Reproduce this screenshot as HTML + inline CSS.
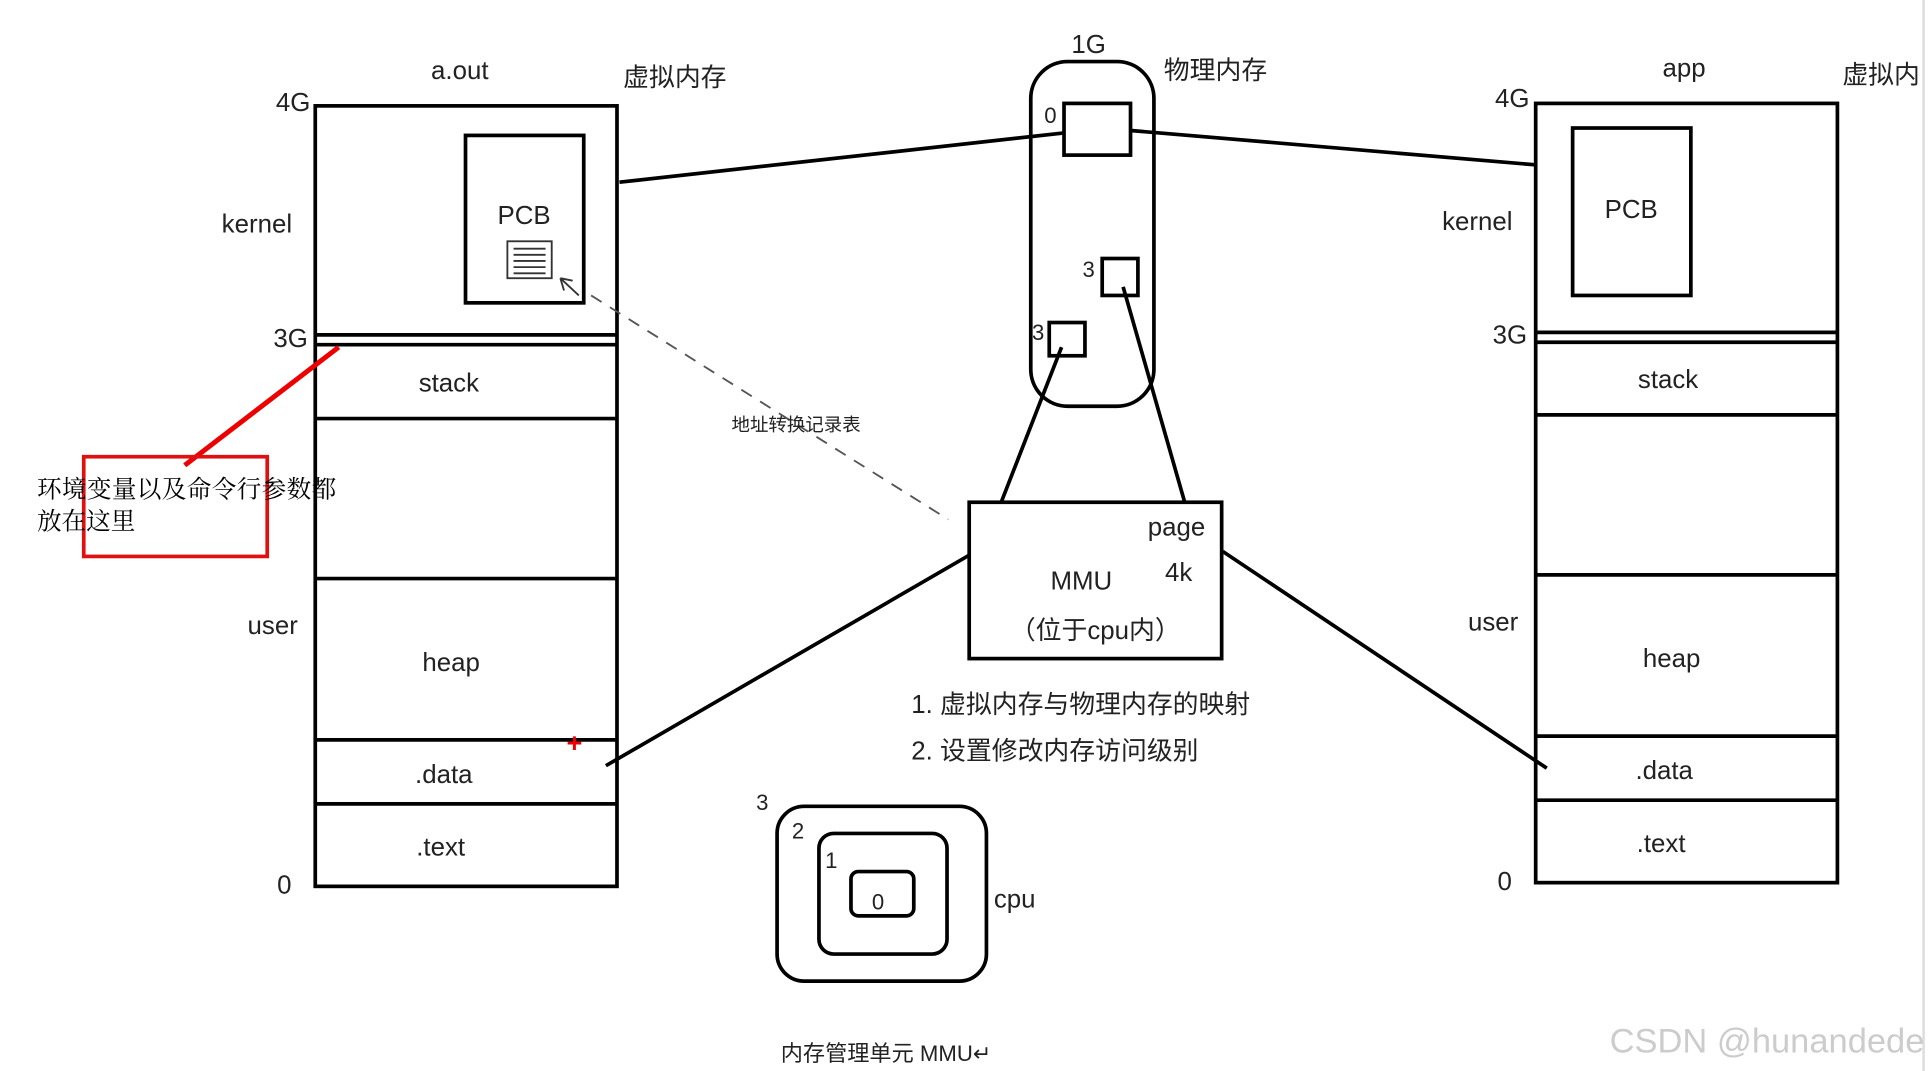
<!DOCTYPE html>
<html><head><meta charset="utf-8"><style>
html,body{margin:0;padding:0;background:#fff;width:1931px;height:1071px;overflow:hidden}
svg{display:block}
text{font-family:"Liberation Sans","Noto Sans CJK SC",sans-serif;fill:#222}
</style></head><body>
<svg width="1931" height="1071" viewBox="0 0 1568 870" preserveAspectRatio="none" xmlns="http://www.w3.org/2000/svg">
<rect width="1568" height="870" fill="#fff"/>
<line x1="1562" y1="0" x2="1562" y2="870" stroke="#ddd" stroke-width="2"/>
<g stroke="#000" fill="none" stroke-width="3">
<rect x="256" y="86" width="245" height="634"/>
<line x1="256" y1="272" x2="501" y2="272"/><line x1="256" y1="280" x2="501" y2="280"/>
<line x1="256" y1="340" x2="501" y2="340"/>
<line x1="256" y1="470" x2="501" y2="470"/>
<line x1="256" y1="601" x2="501" y2="601"/>
<line x1="256" y1="653" x2="501" y2="653"/>
<rect x="378" y="110" width="96" height="136"/>
<rect x="1247" y="84" width="245" height="633"/>
<line x1="1247" y1="270" x2="1492" y2="270"/><line x1="1247" y1="278" x2="1492" y2="278"/>
<line x1="1247" y1="337" x2="1492" y2="337"/>
<line x1="1247" y1="467" x2="1492" y2="467"/>
<line x1="1247" y1="598" x2="1492" y2="598"/>
<line x1="1247" y1="650" x2="1492" y2="650"/>
<rect x="1277" y="104" width="96" height="136"/>
<rect x="837" y="50" width="100" height="280" rx="30"/>
<rect x="864" y="84" width="54" height="42"/>
<rect x="895" y="210" width="29" height="30"/>
<rect x="852" y="262" width="29" height="27"/>
<line x1="503" y1="148" x2="864" y2="108"/>
<line x1="918" y1="106" x2="1248" y2="134"/>
<line x1="862" y1="282" x2="813" y2="408"/>
<line x1="912" y1="233" x2="962" y2="408"/>
<rect x="787" y="408" width="205" height="127"/>
<line x1="787" y1="451" x2="492" y2="622"/>
<line x1="993" y1="448" x2="1256" y2="624"/>
<rect x="631" y="655" width="170" height="142" rx="22"/>
<rect x="665" y="677" width="104" height="98" rx="12"/>
<rect x="691" y="708" width="51" height="36" rx="6"/>
</g>
<line x1="480" y1="240" x2="770" y2="422" stroke="#555" stroke-width="1.5" stroke-dasharray="10,8"/>
<path d="M455 226 L470 240 M455 226 L458 236 M455 226 L465 228" stroke="#333" stroke-width="1.5" fill="none"/>
<rect x="412" y="196" width="36" height="30" fill="#fff" stroke="#333" stroke-width="1.5"/>
<g stroke="#333" stroke-width="1.5"><line x1="417" y1="202" x2="443" y2="202"/><line x1="417" y1="207" x2="443" y2="207"/><line x1="417" y1="212" x2="443" y2="212"/><line x1="417" y1="217" x2="443" y2="217"/><line x1="417" y1="222" x2="443" y2="222"/></g>
<line x1="275" y1="282" x2="150" y2="378" stroke="#e00" stroke-width="4"/>
<rect x="68" y="371" width="149" height="81" fill="none" stroke="#e01010" stroke-width="3"/>
<text x="460" y="611" style="fill:#e00" font-size="22" font-weight="bold">+</text>
<g font-size="21">
<text x="350" y="64">a.out</text><text x="506" y="70">虚拟内存</text>
<text x="224" y="90">4G</text><text x="180" y="189">kernel</text><text x="222" y="282">3G</text>
<text x="201" y="515">user</text><text x="225" y="726">0</text>
<text x="404" y="182">PCB</text>
<text x="340" y="318">stack</text><text x="343" y="545">heap</text><text x="337" y="636">.data</text><text x="338" y="695">.text</text>
<text x="1350" y="62">app</text><text x="1496" y="68">虚拟内</text>
<text x="1214" y="87">4G</text><text x="1171" y="187">kernel</text><text x="1212" y="279">3G</text>
<text x="1192" y="512">user</text><text x="1216" y="723">0</text>
<text x="1303" y="177">PCB</text>
<text x="1330" y="315">stack</text><text x="1334" y="542">heap</text><text x="1328" y="633">.data</text><text x="1329" y="692">.text</text>
<text x="870" y="43">1G</text><text x="945" y="64">物理内存</text>
<text x="932" y="435">page</text><text x="853" y="479">MMU</text><text x="946" y="472">4k</text>
<text x="820" y="519">（位于cpu内）</text>
<text x="740" y="579">1. 虚拟内存与物理内存的映射</text>
<text x="740" y="617">2. 设置修改内存访问级别</text>
<text x="807" y="737">cpu</text>
</g>
<g font-size="18">
<text x="848" y="100">0</text><text x="879" y="225">3</text><text x="838" y="276">3</text>
<text x="614" y="658">3</text><text x="643" y="681">2</text><text x="670" y="705">1</text><text x="708" y="739">0</text>
</g>
<text x="594" y="350" font-size="15">地址转换记录表</text>
<text x="634" y="862" font-size="18">内存管理单元 MMU↵</text>
<text x="30" y="404" font-size="20" textLength="243" style="font-family:'Liberation Serif','Noto Serif CJK SC',serif;fill:#000">环境变量以及命令行参数都</text>
<text x="30" y="430" font-size="20" style="font-family:'Liberation Serif','Noto Serif CJK SC',serif;fill:#000">放在这里</text>
<text x="1307" y="855" font-size="28" style="fill:#ccc">CSDN @hunandede</text>
</svg>
</body></html>
